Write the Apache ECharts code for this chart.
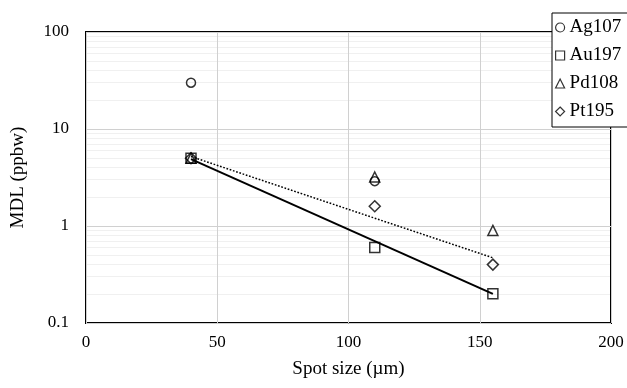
<!DOCTYPE html>
<html>
<head>
<meta charset="utf-8">
<script src="https://cdn.jsdelivr.net/npm/echarts@6/dist/echarts.min.js"></script>
<style>
  html, body { margin: 0; padding: 0; background: #fff; }
  #chart { width: 627px; height: 388px; }
</style>
</head>
<body>
<div id="chart"></div>
<script>
// measured points: [spot size (µm), MDL (ppbw)]
const ag107 = [[40, 30], [110, 2.9]]
const au197 = [[40, 5], [110, 0.6], [155, 0.2]]
const pd108 = [[40, 5], [110, 3.2], [155, 0.9]]
const pt195 = [[40, 5], [110, 1.6], [155, 0.4]]
// trend lines (end points)
const au197Trend = [[40, 4.9], [155, 0.2]]
const pt195Trend = [[40, 5.2], [155, 0.47]]
// axis ticks
const xTicks = [0, 50, 100, 150, 200]
const yTicks = [0.1, 1, 10, 100]
const yMinor = [0.2, 0.3, 0.4, 0.5, 0.6, 0.7, 0.8, 0.9,
  2, 3, 4, 5, 6, 7, 8, 9,
  20, 30, 40, 50, 60, 70, 80, 90]

const FONT = 'Liberation Serif'
const chart = echarts.init(document.getElementById('chart'))

function pointSeries (name, data, symbol, size) {
  return {
    name: name,
    type: 'scatter',
    data: data,
    symbol: symbol,
    symbolSize: size,
    z: 5,
    itemStyle: { color: 'rgba(0,0,0,0)', borderColor: '#000', borderWidth: 1.5 }
  }
}

chart.setOption({
  animation: false,
  textStyle: { fontFamily: FONT },
  grid: {
    left: 86, top: 32, right: 16, bottom: 65,
    show: true,
    borderColor: '#000',
    borderWidth: 2,
    backgroundColor: 'transparent'
  },
  legend: {
    orient: 'vertical',
    left: 552,
    top: 13,
    z: 10,
    padding: [5, 8, 6, 3],
    itemGap: 9,
    itemWidth: 9,
    itemHeight: 9,
    backgroundColor: '#fff',
    borderColor: '#000',
    borderWidth: 1,
    data: [
      { name: 'Ag107', icon: 'circle' },
      { name: 'Au197', icon: 'rect' },
      { name: 'Pd108', icon: 'triangle' },
      { name: 'Pt195', icon: 'diamond' }
    ],
    itemStyle: { color: 'rgba(0,0,0,0)', borderColor: '#000', borderWidth: 1.2 },
    textStyle: { fontFamily: FONT, fontSize: 19, color: '#000' }
  },
  xAxis: {
    type: 'value',
    min: xTicks[0],
    max: xTicks[xTicks.length - 1],
    interval: 50,
    name: 'Spot size (µm)',
    nameLocation: 'middle',
    nameGap: 37,
    nameTextStyle: { fontFamily: FONT, fontSize: 19, color: '#000' },
    axisLine: { show: false },
    axisTick: { show: false },
    axisLabel: { fontFamily: FONT, fontSize: 17, color: '#000', margin: 11 },
    splitLine: { show: true, lineStyle: { color: '#d0d0d0', width: 1 } }
  },
  yAxis: {
    type: 'log',
    logBase: 10,
    min: yTicks[0],
    max: yTicks[yTicks.length - 1],
    name: 'MDL (ppbw)',
    nameLocation: 'middle',
    nameGap: 58,
    nameTextStyle: { fontFamily: FONT, fontSize: 19, color: '#000' },
    axisLine: { show: false },
    axisTick: { show: false },
    axisLabel: { fontFamily: FONT, fontSize: 17, color: '#000', margin: 17 },
    splitLine: { show: true, lineStyle: { color: '#d0d0d0', width: 1 } }
  },
  series: [
    {
      name: 'minor',
      type: 'line',
      data: [],
      silent: true,
      z: -1,
      markLine: {
        silent: true,
        z: -1,
        symbol: ['none', 'none'],
        label: { show: false },
        lineStyle: { color: '#f0f0f0', type: 'solid', width: 1 },
        data: yMinor.map(v => ({ yAxis: v }))
      }
    },
    {
      name: 'Au197 trend',
      type: 'line',
      data: au197Trend,
      showSymbol: false,
      z: 3,
      lineStyle: { color: '#000', width: 2, type: 'solid' }
    },
    {
      name: 'Pt195 trend',
      type: 'line',
      data: pt195Trend,
      showSymbol: false,
      z: 3,
      lineStyle: { color: '#000', width: 1.5, type: [1.7, 1.7] }
    },
    pointSeries('Ag107', ag107, 'circle', 9),
    pointSeries('Au197', au197, 'rect', 10),
    pointSeries('Pd108', pd108, 'triangle', 10),
    pointSeries('Pt195', pt195, 'diamond', 11)
  ]
})
</script>
</body>
</html>
